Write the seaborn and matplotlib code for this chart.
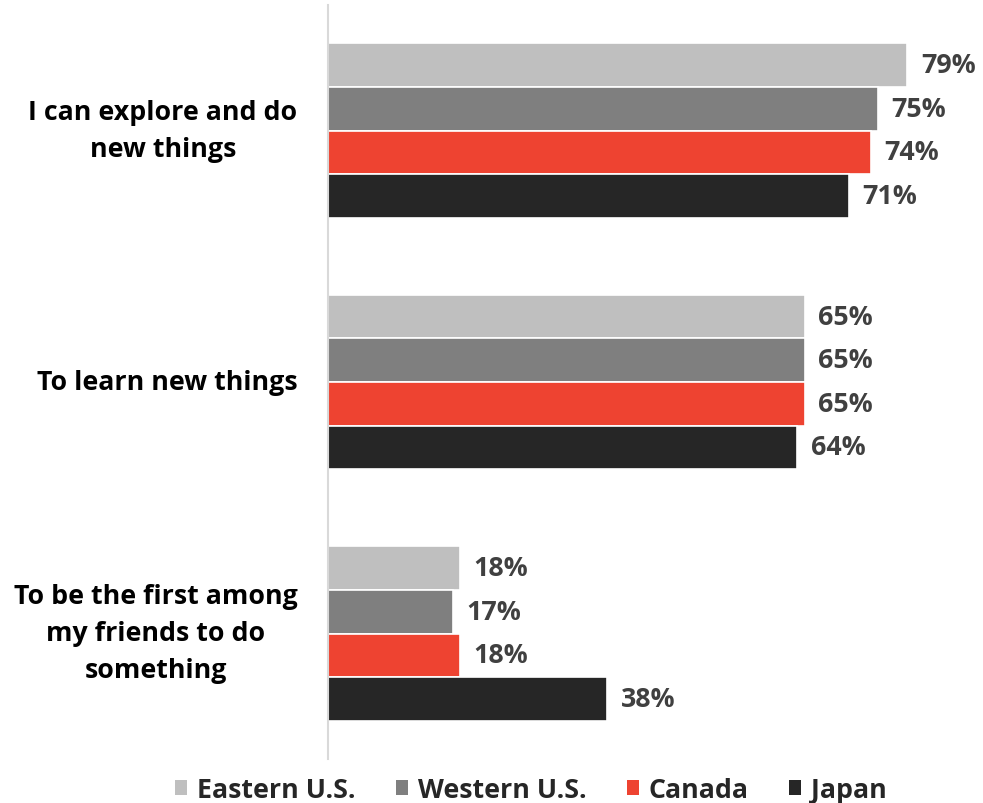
import matplotlib
matplotlib.use("Agg")
import matplotlib.pyplot as plt
from matplotlib.patches import Patch
import seaborn as sns
import pandas as pd

categories = [
    "I can explore and do\nnew things",
    "To learn new things",
    "To be the first among\nmy friends to do\nsomething",
]
regions = ["Eastern U.S.", "Western U.S.", "Canada", "Japan"]
eastern_us = [79, 65, 18]
western_us = [75, 65, 17]
canada = [74, 65, 18]
japan = [71, 64, 38]
colors = ["#BFBFBF", "#7F7F7F", "#EE4331", "#262626"]

series = [eastern_us, western_us, canada, japan]
df = pd.DataFrame(
    [(c, r, v) for r, vals in zip(regions, series) for c, v in zip(categories, vals)],
    columns=["category", "region", "value"],
)

FS = 19.3

sns.set_theme(style="white")
plt.rcParams["font.family"] = ["Open Sans", "DejaVu Sans"]
plt.rcParams["font.weight"] = "bold"

fig = plt.figure(figsize=(9.83, 8.04), dpi=100)
ax = fig.add_axes([328 / 983, 43.75 / 804, 1 - 328 / 983 - 0.01, 754.5 / 804])

sns.barplot(
    data=df, y="category", x="value", hue="region", order=categories,
    hue_order=regions, palette=colors, orient="h", width=0.692,
    edgecolor="white", linewidth=1.2, legend=False, ax=ax, saturation=1,
)

for cont in ax.containers:
    ax.bar_label(cont, fmt="%.0f%%", padding=10, color="#404040",
                 fontsize=FS, fontweight="bold")

ax.set_xlim(0, 88)
ax.set_ylim(2.5, -0.5)
ax.set_xlabel("")
ax.set_ylabel("")
ax.set_xticks([])
for s in ["top", "right", "bottom"]:
    ax.spines[s].set_visible(False)
ax.spines["left"].set_color("#D9D9D9")
ax.spines["left"].set_linewidth(1.5)
ax.tick_params(axis="y", length=0, pad=22)
for lbl in ax.get_yticklabels():
    lbl.set_fontsize(FS)
    lbl.set_fontweight("bold")
    lbl.set_color("black")
    lbl.set_verticalalignment("center")
    lbl.set_multialignment("center")
    lbl.set_linespacing(1.55)

handles = [Patch(facecolor=c, edgecolor="none") for c in colors]
fig.legend(handles, regions, loc="center", bbox_to_anchor=(0.540, 13 / 804),
           ncol=4, frameon=False, handlelength=0.45, handleheight=0.45,
           handletextpad=0.37, columnspacing=1.5,
           prop={"size": FS, "weight": "bold"})

fig.savefig("out.png", dpi=100)
